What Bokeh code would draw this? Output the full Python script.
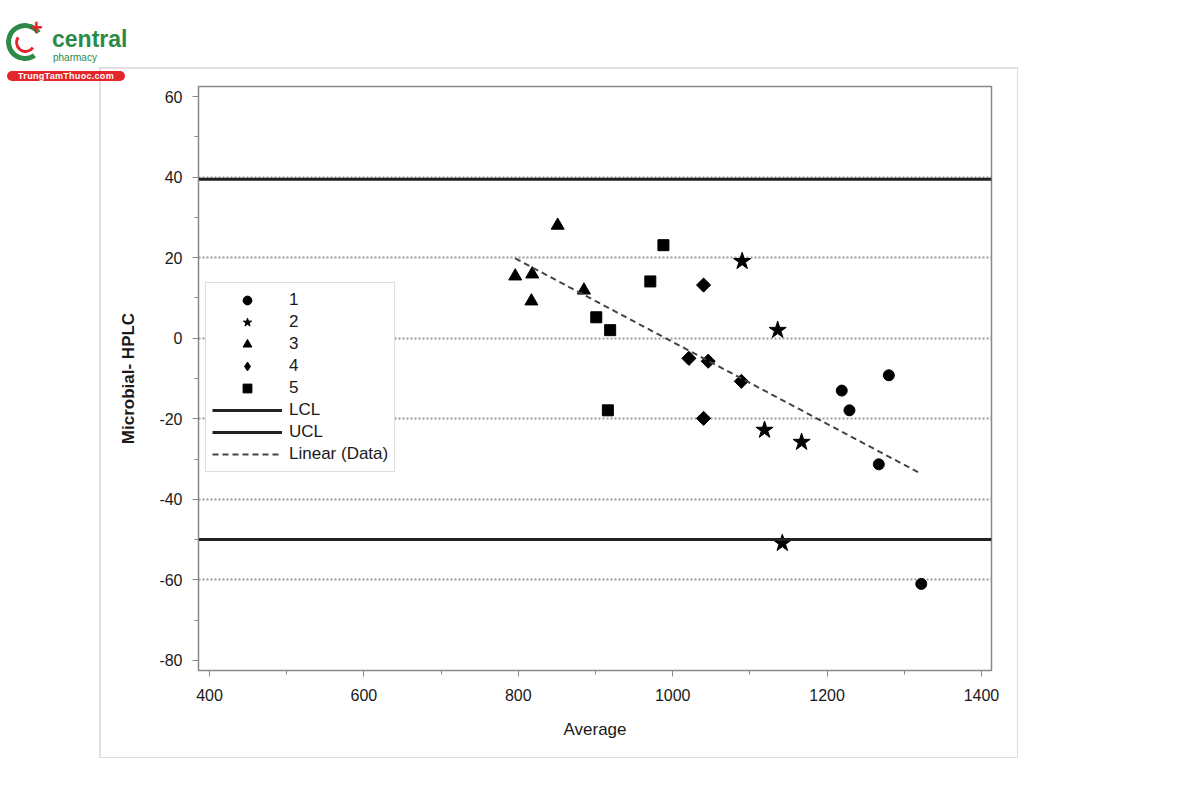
import numpy as np
from math import pi
from bokeh.plotting import figure
from bokeh.layouts import column
from bokeh.models import Range1d, Legend, LegendItem, FixedTicker, Div
from bokeh.embed import file_html
from bokeh.resources import INLINE

# ---- data ----
g1_x = [1280, 1219, 1229, 1267, 1322]
g1_y = [-9.2, -13.0, -17.9, -31.3, -61.0]
g2_x = [1090, 1136, 1119, 1167, 1142]
g2_y = [19.1, 2.0, -22.8, -25.8, -50.9]
g3_x = [851, 796, 818, 817, 885]
g3_y = [28.0, 15.4, 15.9, 9.2, 11.9]
g4_x = [1040, 1021, 1046, 1089, 1040]
g4_y = [13.2, -5.0, -5.7, -10.7, -19.9]
g5_x = [988, 971, 901, 919, 916]
g5_y = [23.1, 14.1, 5.2, 2.0, -17.9]

ucl = 39.5
lcl = -50.0
x_ticks = [400, 600, 800, 1000, 1200, 1400]
x_minor = [500, 700, 900, 1100, 1300]
y_ticks = [-80, -60, -40, -20, 0, 20, 40, 60]
y_minor = [-70, -50, -30, -10, 10, 30, 50]
grid_lines = [-60, -40, -20, 0, 20, 40]
x_lo, x_hi = 385.7, 1413
y_lo, y_hi = -82.5, 62.5

all_x = np.array(g1_x + g2_x + g3_x + g4_x + g5_x, dtype=float)
all_y = np.array(g1_y + g2_y + g3_y + g4_y + g5_y, dtype=float)
slope, icpt = np.polyfit(all_x, all_y, 1)
trend_x = [all_x.min(), all_x.max()]
trend_y = [slope * v + icpt for v in trend_x]

FONT = "Liberation Sans"
TXT = "#1a1a1a"

fig = figure(frame_width=793, frame_height=584,
             x_range=Range1d(x_lo, x_hi), y_range=Range1d(y_lo, y_hi),
             min_border_left=98, min_border_right=26, min_border_top=18, min_border_bottom=87,
             output_backend="svg", toolbar_location=None,
             margin=(0, 0, 0, 100),
             styles={"outline": "2px solid #dddddd", "outline-offset": "-1px"})

fig.outline_line_color = "#888888"
fig.outline_line_width = 1.5
fig.xgrid.visible = False
fig.ygrid.ticker = FixedTicker(ticks=grid_lines)
fig.ygrid.grid_line_color = "#999999"
fig.ygrid.grid_line_dash = "2 2"
fig.ygrid.grid_line_width = 2

fig.xaxis.ticker = FixedTicker(ticks=x_ticks, minor_ticks=x_minor)
fig.yaxis.ticker = FixedTicker(ticks=y_ticks, minor_ticks=y_minor)
fig.yaxis.major_label_overrides = {t: str(t) for t in y_ticks}
for ax in (fig.xaxis, fig.yaxis):
    ax.axis_line_color = "#888888"
    ax.major_tick_line_color = "#888888"
    ax.minor_tick_line_color = "#888888"
    ax.major_tick_in = 0
    ax.major_tick_out = 6
    ax.minor_tick_in = 0
    ax.minor_tick_out = 4
    ax.major_label_text_font = FONT
    ax.major_label_text_font_size = "16px"
    ax.major_label_text_color = TXT
    ax.axis_label_text_font = FONT
    ax.axis_label_text_color = TXT
fig.xaxis.major_label_standoff = 12
fig.yaxis.major_label_standoff = 10
fig.xaxis.axis_label = "Average"
fig.xaxis.axis_label_text_font_style = "normal"
fig.xaxis.axis_label_text_font_size = "17px"
fig.xaxis.axis_label_standoff = 16
fig.yaxis.axis_label = "Microbial- HPLC"
fig.yaxis.axis_label_text_font_style = "bold"
fig.yaxis.axis_label_text_font_size = "17px"
fig.yaxis.axis_label_standoff = 18

r1 = fig.scatter(g1_x, g1_y, marker="circle", size=11, color="black")
r2 = fig.scatter(g2_x, g2_y, marker="star", size=18, color="black")
r3 = fig.scatter(g3_x, g3_y, marker="triangle", size=13, color="black")
r4 = fig.scatter(g4_x, g4_y, marker="square", size=10, angle=pi / 4, color="black")
# legend-only swatch for series 4 (a NaN point draws nothing in the plot)
r4_leg = fig.scatter([np.nan], [np.nan], marker="diamond", size=14, color="black")
r5 = fig.scatter(g5_x, g5_y, marker="square", size=11, color="black")

rl = fig.line([x_lo, x_hi], [lcl, lcl], line_color="#222222", line_width=3)
ru = fig.line([x_lo, x_hi], [ucl, ucl], line_color="#222222", line_width=3)
rt = fig.line(trend_x, trend_y, line_color="#444444", line_width=2, line_dash="6 4")

legend = Legend(items=[
    LegendItem(label="1", renderers=[r1]),
    LegendItem(label="2", renderers=[r2]),
    LegendItem(label="3", renderers=[r3]),
    LegendItem(label="4", renderers=[r4_leg]),
    LegendItem(label="5", renderers=[r5]),
    LegendItem(label="LCL", renderers=[rl]),
    LegendItem(label="UCL", renderers=[ru]),
    LegendItem(label="Linear (Data)", renderers=[rt]),
], location=(7, 198))
legend.border_line_color = "#bbbbbb"
legend.border_line_width = 1.5
legend.background_fill_color = "white"
legend.background_fill_alpha = 1
legend.label_text_font = FONT
legend.label_text_font_size = "17px"
legend.label_text_color = TXT
legend.glyph_width = 70
legend.glyph_height = 22
legend.label_height = 22
legend.spacing = 0
legend.padding = 6
legend.margin = 0
legend.label_standoff = 7
fig.add_layout(legend)

# watermark logo (HTML text)
GREEN = "#2b8a47"
RED = "#e3262b"
logo_html = f"""
<div style="position:relative;width:200px;height:68px;font-family:'Liberation Sans',Arial,sans-serif;">
  <div style="position:absolute;box-sizing:border-box;left:6px;top:23px;width:38px;height:38px;border:5px solid {GREEN};
       border-right-color:transparent;border-radius:50%;transform:rotate(10deg);"></div>
  <div style="position:absolute;box-sizing:border-box;left:15px;top:32px;width:21px;height:21px;border:3px solid {RED};
       border-right-color:transparent;border-top-color:transparent;border-radius:50%;transform:rotate(-10deg);"></div>
  <div style="position:absolute;left:30px;top:17px;color:{RED};font-weight:bold;font-size:22px;line-height:22px;">+</div>
  <div style="position:absolute;left:52px;top:27px;color:{GREEN};font-weight:bold;font-size:23px;line-height:24px;">central</div>
  <div style="position:absolute;left:53px;top:52px;color:{GREEN};font-size:10px;line-height:11px;">pharmacy</div>
  <div style="position:absolute;left:7px;top:71px;width:118px;height:10px;background:{RED};border-radius:5px;
       color:white;font-weight:bold;font-size:9px;line-height:10px;text-align:center;letter-spacing:0.3px;z-index:5;">TrungTamThuoc.com</div>
</div>
"""
logo = Div(text=logo_html, width=200, height=68, margin=(0, 0, 0, 0),
           styles={"overflow": "visible", "z-index": "5"})

p = column(logo, fig, spacing=0, margin=(0, 0, 0, 0))

open("out.html", "w").write(file_html(p, INLINE))
